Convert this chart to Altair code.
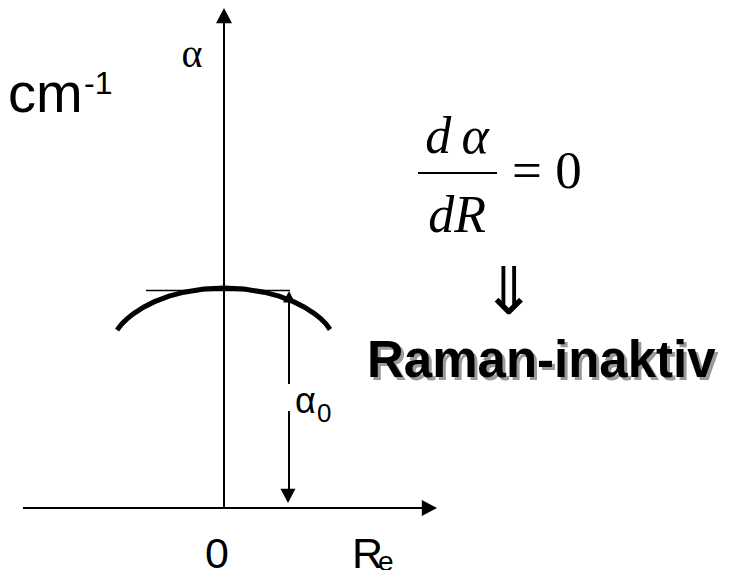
import altair as alt
import pandas as pd

# Diagram units: origin at the crossing of the axes, 1 unit ~ 1 px.
# polarizability curve alpha(R)
arc_x = [-107, -102, -97, -90, -80, -70, -55, -40, -20, 0, 20, 40, 55, 70, 80, 90, 97, 102, 106]
arc_y = [178, 184.2, 189.1, 194.7, 201.1, 206.1, 211.8, 215.8, 219, 220,
         219, 215.8, 211.8, 206.1, 201.1, 194.7, 189.1, 184.2, 178.5]

# axes (R axis, alpha axis)
axis_x = [-201, 0]
axis_y = [0, 0]
axis_x2 = [199, 0]
axis_y2 = [0, 486]

# alpha_0 dimension line (two pieces, gap for the label)
a0_x = [65, 65]
a0_y = [206, 97]
a0_x2 = [65, 65]
a0_y2 = [124, 15]

# horizontal tangent at the maximum
tan_x, tan_x2, tan_y = [-78], [66], [217.5]

# fraction bar of d(alpha)/dR
frac_x, frac_x2, frac_y = [194], [273], [335]

# arrowhead positions
up_axis_x, up_axis_y = [0], [492]
right_axis_x, right_axis_y = [205], [0]
a0_down_x, a0_down_y = [64], [12.5]
a0_up_x, a0_up_y = [65], [211]

XS = alt.Scale(domain=[-216, 501], nice=False, zero=False)
YS = alt.Scale(domain=[-62, 500], nice=False, zero=False)

UP = "M0,-1L1,0.9L-1,0.9Z"
RIGHT = "M1,0L-0.9,1L-0.9,-1Z"
DOWN = "M0,1L1,-0.9L-1,-0.9Z"


def xy():
    return dict(x=alt.X("x:Q", scale=XS, axis=None),
                y=alt.Y("y:Q", scale=YS, axis=None))


def segs(xs, ys, x2s, y2s, width):
    df = pd.DataFrame({"x": xs, "y": ys, "x2": x2s, "y2": y2s})
    return alt.Chart(df).mark_rule(color="black", strokeWidth=width).encode(
        x2="x2:Q", y2="y2:Q", **xy())


def head(xs, ys, shape, size):
    df = pd.DataFrame({"x": xs, "y": ys})
    return alt.Chart(df).mark_point(shape=shape, size=size, filled=True,
                                    color="black", opacity=1).encode(**xy())


def txt(xs, ys, texts, color="black", baseline="alphabetic", **kw):
    df = pd.DataFrame({"x": xs, "y": ys, "t": texts})
    return alt.Chart(df).mark_text(color=color, baseline=baseline, **kw).encode(
        text="t:N", **xy())


arc = alt.Chart(pd.DataFrame({"x": arc_x, "y": arc_y})).mark_line(
    color="black", strokeWidth=5, strokeCap="butt").encode(**xy())

layers = [
    segs(axis_x, axis_y, axis_x2, axis_y2, 2),
    segs(tan_x, tan_y, tan_x2, tan_y, 1.5),
    arc,
    segs(a0_x, a0_y, a0_x2, a0_y2, 2),
    segs(frac_x, frac_y, frac_x2, frac_y, 2),
    head(up_axis_x, up_axis_y, UP, 256),
    head(right_axis_x, right_axis_y, RIGHT, 256),
    head(a0_down_x, a0_down_y, DOWN, 225),
    head(a0_up_x, a0_up_y, UP, 144),
    # axis labels
    txt([-32], [441], ["α"], font="Liberation Serif", fontSize=40, align="center"),
    txt([-216], [396], ["cm"], font="Liberation Sans", fontSize=56, align="left"),
    txt([-140], [414], ["-1"], font="Liberation Sans", fontSize=32, align="left"),
    txt([-7], [-60], ["0"], font="Liberation Sans", fontSize=43, align="center"),
    txt([128], [-60], ["R"], font="Liberation Sans", fontSize=43, align="left"),
    txt([154], [-63], ["e"], font="Liberation Sans", fontSize=28, align="left"),
    # alpha_0 label
    txt([71], [95], ["α"], font="Liberation Sans", fontSize=36, align="left"),
    txt([93], [86], ["0"], font="Liberation Sans", fontSize=26, align="left"),
    # d alpha / dR = 0
    txt([233], [355], ["d\u2009α"], font="Liberation Serif", fontSize=52, fontStyle="italic", align="center"),
    txt([233], [276], ["dR"], font="Liberation Serif", fontSize=52, fontStyle="italic", align="center"),
    txt([288], [320], ["= 0"], font="Liberation Serif", fontSize=53, align="left"),
    txt([285], [214], ["⇓"], font="DejaVu Sans", fontSize=66, align="center", baseline="middle"),
    # Raman-inaktiv with shadow
    txt([146], [128], ["Raman-inaktiv"], color="#9a9a9a", font="Liberation Sans",
        fontSize=51, fontWeight="bold", align="left"),
    txt([143], [131], ["Raman-inaktiv"], font="Liberation Sans", fontSize=51,
        fontWeight="bold", align="left"),
]

chart = alt.layer(*layers).properties(
    width=717, height=562, padding=0,
    autosize=alt.AutoSizeParams(type="none"),
).configure_view(stroke=None)

chart.save("out.html", embed_options={"renderer": "svg", "actions": False})
